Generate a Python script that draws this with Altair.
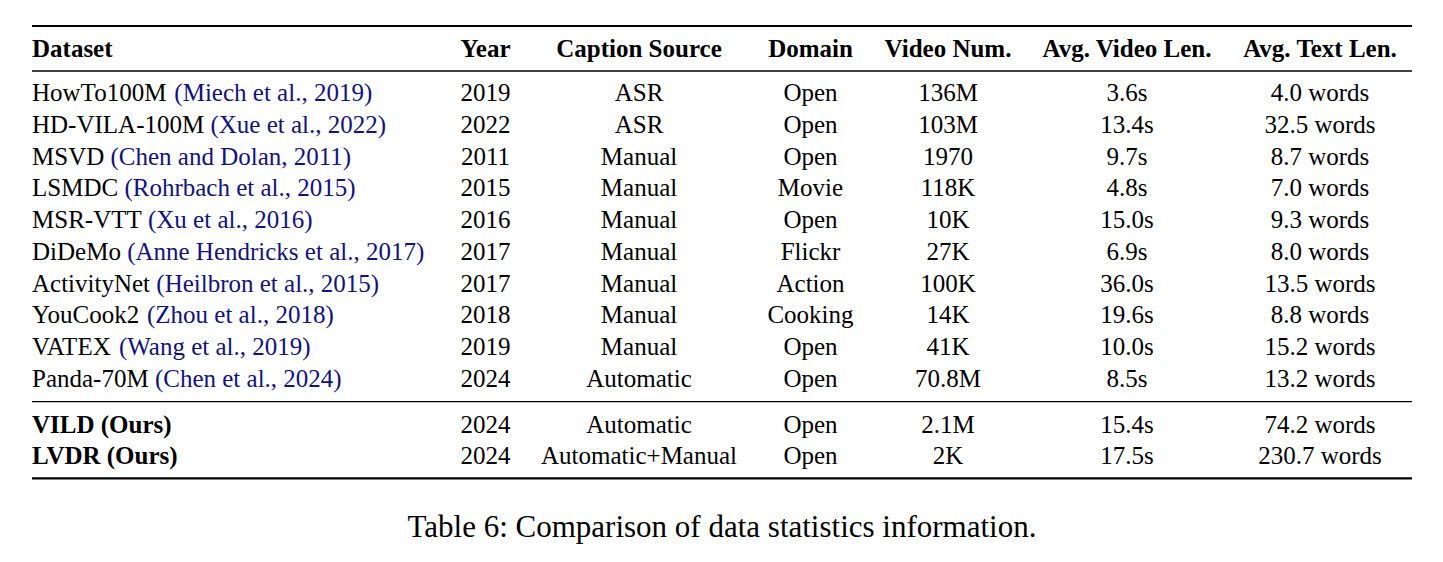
import altair as alt
import pandas as pd

# ---------------- data ----------------
headers = ["Dataset", "Year", "Caption Source", "Domain", "Video Num.",
           "Avg. Video Len.", "Avg. Text Len."]
datasets = ["HowTo100M", "HD-VILA-100M", "MSVD", "LSMDC", "MSR-VTT", "DiDeMo",
            "ActivityNet", "YouCook2", "VATEX", "Panda-70M",
            "VILD (Ours)", "LVDR (Ours)"]
citations = ["Miech et al., 2019", "Xue et al., 2022", "Chen and Dolan, 2011",
             "Rohrbach et al., 2015", "Xu et al., 2016", "Anne Hendricks et al., 2017",
             "Heilbron et al., 2015", "Zhou et al., 2018", "Wang et al., 2019",
             "Chen et al., 2024", "", ""]
years = ["2019", "2022", "2011", "2015", "2016", "2017", "2017", "2018", "2019",
         "2024", "2024", "2024"]
sources = ["ASR", "ASR", "Manual", "Manual", "Manual", "Manual", "Manual", "Manual",
           "Manual", "Automatic", "Automatic", "Automatic+Manual"]
domains = ["Open", "Open", "Open", "Movie", "Open", "Flickr", "Action", "Cooking",
           "Open", "Open", "Open", "Open"]
video_nums = ["136M", "103M", "1970", "118K", "10K", "27K", "100K", "14K", "41K",
              "70.8M", "2.1M", "2K"]
video_lens = ["3.6s", "13.4s", "9.7s", "4.8s", "15.0s", "6.9s", "36.0s", "19.6s",
              "10.0s", "8.5s", "15.4s", "17.5s"]
text_lens = ["4.0 words", "32.5 words", "8.7 words", "7.0 words", "9.3 words",
             "8.0 words", "13.5 words", "8.8 words", "15.2 words", "13.2 words",
             "74.2 words", "230.7 words"]
n_ours = 2
caption = "Table 6: Comparison of data statistics information."

# ---------------- layout (image pixel coordinates) ----------------
W, H = 1427, 546
OFF = 8
FS = 25
CAP_FS = 31
LEFT, RIGHT = 32, 1412
col_centers = [None, 485.5, 639, 810.5, 948, 1127, 1320]
header_base = 56.5
row_base0 = 101
row_step = 31.75
ours_base0 = 432.8
rules = [(26, 2.2), (71, 1.3), (401.7, 1.3), (478.3, 2.2)]
cap_x, cap_base = 722, 537
BLUE = "#12127e"
FONT = "Liberation Serif"

# Times (Liberation Serif) advance widths, per 1000 em
TW = {' ': 250, '(': 333, ')': 333, ',': 250, '.': 250, '-': 333, '+': 564}
TW.update({d: 500 for d in "0123456789"})
TW.update(dict(zip("ABCDEFGHIJKLMNOPQRSTUVWXYZ",
                   [722, 667, 667, 722, 611, 556, 722, 722, 333, 389, 722, 611, 889,
                    722, 722, 556, 722, 667, 556, 611, 722, 722, 944, 722, 722, 611])))
TW.update(dict(zip("abcdefghijklmnopqrstuvwxyz",
                   [444, 500, 444, 500, 444, 333, 500, 500, 278, 278, 500, 278, 778,
                    500, 500, 500, 500, 333, 389, 278, 500, 500, 722, 500, 500, 444])))
KERN = {"VA": -80, "AT": -80, "Yo": -40}


def text_width(s, size):
    total = sum(TW.get(c, 500) for c in s)
    total += sum(KERN.get(s[k:k + 2], 0) for k in range(len(s) - 1))
    return total * size / 1000.0


n_rows = len(datasets)
row_y = []
for i in range(n_rows):
    if i < n_rows - n_ours:
        row_y.append(row_base0 + i * row_step)
    else:
        row_y.append(ours_base0 + (i - (n_rows - n_ours)) * (row_step - 0.75))

left_bold, center_bold, left_norm, center_norm = [], [], [], []
left_bold.append({"x": LEFT, "y": header_base, "t": headers[0], "c": "black"})
for j in range(1, len(headers)):
    center_bold.append({"x": col_centers[j], "y": header_base, "t": headers[j], "c": "black"})

cols = [years, sources, domains, video_nums, video_lens, text_lens]
for i in range(n_rows):
    y = row_y[i]
    if i >= n_rows - n_ours:
        left_bold.append({"x": LEFT, "y": y, "t": datasets[i], "c": "black"})
    else:
        left_norm.append({"x": LEFT, "y": y, "t": datasets[i], "c": "black"})
        if citations[i]:
            cx = LEFT + text_width(datasets[i] + " ", FS)
            left_norm.append({"x": cx, "y": y, "t": "(" + citations[i] + ")", "c": BLUE})
    for j, col in enumerate(cols, start=1):
        center_norm.append({"x": col_centers[j], "y": y, "t": col[i], "c": "black"})

xs = alt.Scale(domain=[OFF, OFF + W], range=[0, W])
ys = alt.Scale(domain=[OFF, OFF + H], range=[0, H])


def enc(**kw):
    return dict(
        x=alt.X("x:Q", scale=xs, axis=None),
        y=alt.Y("y:Q", scale=ys, axis=None),
        **kw,
    )


def text_layer(rows, align, bold, size):
    return alt.Chart(pd.DataFrame(rows)).mark_text(
        align=align, baseline="alphabetic", font=FONT, fontSize=size,
        fontWeight="bold" if bold else "normal",
    ).encode(**enc(text="t:N", color=alt.Color("c:N", scale=None)))


rule_df = pd.DataFrame([{"x": LEFT, "x2": RIGHT, "y": y, "w": w} for y, w in rules])
rule_layer = alt.Chart(rule_df).mark_rule(color="black").encode(
    x=alt.X("x:Q", scale=xs, axis=None),
    x2="x2:Q",
    y=alt.Y("y:Q", scale=ys, axis=None),
    strokeWidth=alt.StrokeWidth("w:Q", scale=None),
)

cap_layer = text_layer([{"x": cap_x, "y": cap_base, "t": caption, "c": "black"}],
                       "center", False, CAP_FS)

chart = alt.layer(
    rule_layer,
    text_layer(left_bold, "left", True, FS),
    text_layer(center_bold, "center", True, FS),
    text_layer(left_norm, "left", False, FS),
    text_layer(center_norm, "center", False, FS),
    cap_layer,
).properties(
    width=W, height=H, padding=0,
    autosize=alt.AutoSizeParams(type="none"),
    background="white",
).configure_view(stroke=None)

chart.save("out.html", embed_options={"renderer": "svg", "actions": False})
